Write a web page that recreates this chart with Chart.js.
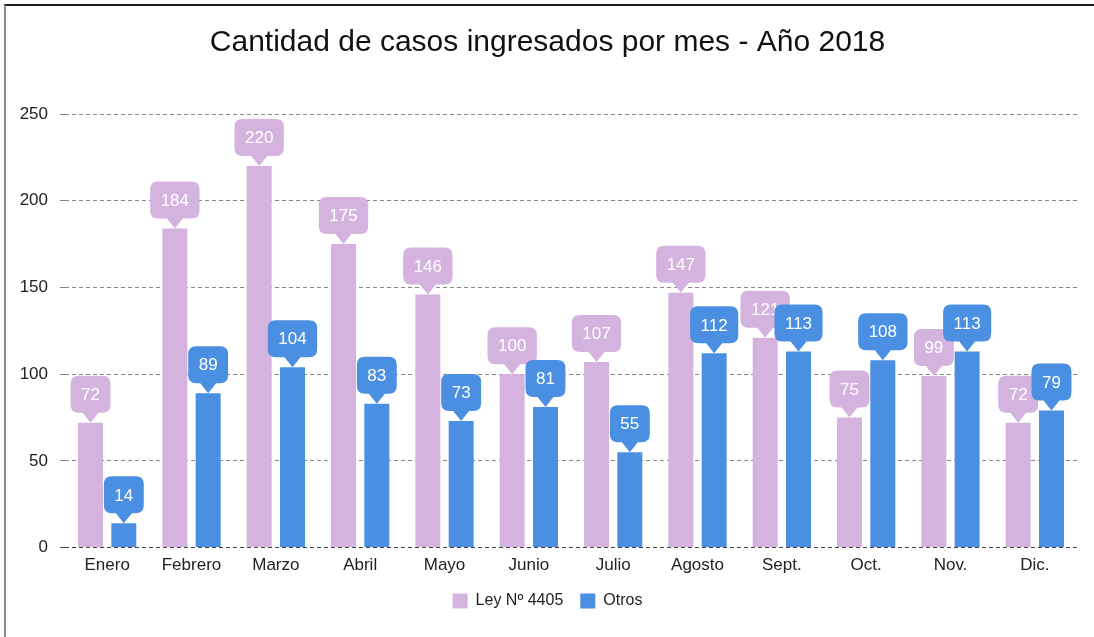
<!DOCTYPE html>
<html>
<head>
<meta charset="utf-8">
<script src="https://cdn.jsdelivr.net/npm/chart.js@4"></script>
<style>
  html, body { margin: 0; padding: 0; background: #fff; }
  #wrap { position: relative; width: 1094px; height: 637px; overflow: hidden; }
  #frame { position: absolute; left: 4px; top: 4px; right: -4px; bottom: -4px;
           border-top: 2px solid #1a1a1a; border-left: 2px solid #8a8a8a; pointer-events: none; }
</style>
</head>
<body>
<div id="wrap">
  <canvas id="chart" width="1094" height="637"></canvas>
  <div id="frame"></div>
</div>
<script>
var months = ['Enero', 'Febrero', 'Marzo', 'Abril', 'Mayo', 'Junio', 'Julio', 'Agosto', 'Sept.', 'Oct.', 'Nov.', 'Dic.'];
var ley4405 = [72, 184, 220, 175, 146, 100, 107, 147, 121, 75, 99, 72];
var otros = [14, 89, 104, 83, 73, 81, 55, 112, 113, 108, 113, 79];

var font_family = '"Liberation Sans", Arial, sans-serif';

// callout boxes with a little pointer above each bar
var calloutPlugin = {
    id: 'callouts',
    afterDatasetsDraw: function(chart) {
        var ctx = chart.ctx;
        ctx.save();
        ctx.font = '17px ' + font_family;
        ctx.textAlign = 'center';
        ctx.textBaseline = 'middle';
        chart.data.datasets.forEach(function(ds, i) {
            var meta = chart.getDatasetMeta(i);
            meta.data.forEach(function(bar, j) {
                var txt = String(ds.data[j]);
                var w = ctx.measureText(txt).width + 21;
                var h = 37, r = 8, tri = 10, half = 8;
                var x = bar.x, tip = bar.y;
                var bottom = tip - tri, top = bottom - h;
                var left = x - w / 2, right = x + w / 2;
                ctx.fillStyle = ds.backgroundColor;
                ctx.beginPath();
                ctx.moveTo(left + r, top);
                ctx.lineTo(right - r, top);
                ctx.quadraticCurveTo(right, top, right, top + r);
                ctx.lineTo(right, bottom - r);
                ctx.quadraticCurveTo(right, bottom, right - r, bottom);
                ctx.lineTo(x + half, bottom);
                ctx.lineTo(x, tip);
                ctx.lineTo(x - half, bottom);
                ctx.lineTo(left + r, bottom);
                ctx.quadraticCurveTo(left, bottom, left, bottom - r);
                ctx.lineTo(left, top + r);
                ctx.quadraticCurveTo(left, top, left + r, top);
                ctx.closePath();
                ctx.fill();
                ctx.fillStyle = '#ffffff';
                ctx.fillText(txt, x, top + h / 2 + 1);
            });
        });
        ctx.restore();
    }
};

var ctx = document.getElementById('chart');
var myChart = new Chart(ctx, {
    type: 'bar',
    data: {
        labels: months,
        datasets: [{
            label: 'Ley Nº 4405',
            data: ley4405,
            backgroundColor: '#d4b3de'
        }, {
            label: 'Otros',
            data: otros,
            backgroundColor: '#4a8fe2'
        }]
    },
    options: {
        responsive: false,
        animation: false,
        categoryPercentage: 0.79,
        barPercentage: 0.75,
        layout: {
            padding: { left: 18, right: 17, top: 0, bottom: 18 }
        },
        plugins: {
            title: {
                display: true,
                text: 'Cantidad de casos ingresados por mes - Año 2018',
                color: '#111',
                font: { family: font_family, size: 30, weight: 'normal' },
                padding: { top: 25, bottom: 53 }
            },
            legend: {
                position: 'bottom',
                labels: {
                    color: '#222',
                    font: { family: font_family, size: 16 },
                    boxWidth: 15,
                    boxHeight: 15,
                    padding: 17
                }
            },
            tooltip: { enabled: false }
        },
        scales: {
            x: {
                grid: { display: false },
                border: { display: false },
                ticks: {
                    color: '#222',
                    font: { family: font_family, size: 17 },
                    padding: 0
                }
            },
            y: {
                min: 0,
                max: 250,
                afterFit: function(scale) { scale.width = 47; },
                border: { display: false, dash: [4, 3] },
                grid: {
                    color: function(c) { return c.tick && c.tick.value === 0 ? '#444' : '#888'; },
                    tickColor: function(c) { return c.tick && c.tick.value === 0 ? '#444' : '#888'; },
                    tickLength: 5
                },
                ticks: {
                    stepSize: 50,
                    color: '#222',
                    font: { family: font_family, size: 17 },
                    padding: 12
                }
            }
        }
    },
    plugins: [calloutPlugin]
});
</script>
</body>
</html>
